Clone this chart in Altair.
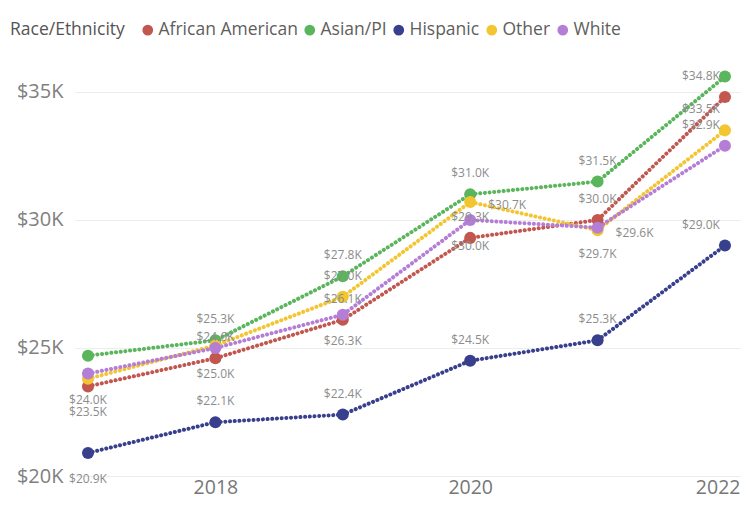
import altair as alt
import pandas as pd

years = [2017, 2018, 2019, 2020, 2021, 2022]
groups = ["African American", "Asian/PI", "Hispanic", "Other", "White"]
colors = ["#C1574F", "#5BB55C", "#383F8C", "#F2C531", "#B57ED6"]

# values in thousands of dollars
african_american = [23.5, 24.6, 26.1, 29.3, 30.0, 34.8]
asian_pi = [24.7, 25.3, 27.8, 31.0, 31.5, 35.6]
hispanic = [20.9, 22.1, 22.4, 24.5, 25.3, 29.0]
other = [23.8, 25.1, 27.0, 30.7, 29.6, 33.5]
white = [24.0, 25.0, 26.3, 30.0, 29.7, 32.9]

# where each data label appears: a=above, b=below, r=right, al=above-left, n=hidden
label_side_aa = ["b", "a", "a", "a", "a", "al"]
label_side_as = ["n", "a", "a", "a", "a", "n"]
label_side_hi = ["b", "a", "a", "a", "a", "al"]
label_side_ot = ["n", "n", "a", "r", "r", "al"]
label_side_wh = ["b", "b", "b", "b", "b", "al"]

y_ticks = [20000, 25000, 30000, 35000]
x_ticks = [2018, 2020, 2022]

series = [african_american, asian_pi, hispanic, other, white]
sides = [label_side_aa, label_side_as, label_side_hi, label_side_ot, label_side_wh]

rows = []
for g, vals, sd in zip(groups, series, sides):
    for yr, v, s in zip(years, vals, sd):
        rows.append({"year": yr, "group": g, "value": v * 1000,
                     "label": f"${v:.1f}K", "side": s})
df = pd.DataFrame(rows)

FONT = "Open Sans"

x_enc = alt.X("year:Q",
              scale=alt.Scale(domain=[2016.898, 2022.118], nice=False, zero=False),
              axis=alt.Axis(values=x_ticks, format="d", title=None, grid=False,
                            domain=False, ticks=False, labelFontSize=19.5,
                            labelColor="#777777", labelPadding=2, labelFont=FONT,
                            labelFlush=20, labelFlushOffset=15))
y_enc = alt.Y("value:Q",
              scale=alt.Scale(domain=[20000, 36170], nice=False, zero=False),
              axis=alt.Axis(values=y_ticks, labelExpr="'$' + (datum.value/1000) + 'K'",
                            title=None, domain=False, ticks=False, labelFontSize=20,
                            labelColor="#808080", labelPadding=12, labelFont=FONT,
                            gridColor="#EDEDED", gridWidth=1))

legend = alt.Legend(title="Race/Ethnicity", orient="none",
                    legendX=-65, legendY=-41, direction="horizontal",
                    titleOrient="left", titleFontSize=17.5,
                    titleFont=FONT, titleFontWeight="normal",
                    titleColor="#555555", labelFontSize=17.5,
                    labelFont=FONT, labelColor="#605E5C",
                    symbolType="circle", symbolSize=115, symbolStrokeWidth=0,
                    symbolOpacity=1,
                    labelOffset=2, columnPadding=3, titlePadding=14)
color_enc = alt.Color("group:N", scale=alt.Scale(domain=groups, range=colors),
                      legend=legend)

base = alt.Chart(df).encode(x=x_enc, y=y_enc)

lines = base.mark_line(strokeWidth=4, strokeDash=[0.1, 4.6], strokeCap="round").encode(
    color=color_enc)

points = base.mark_circle(size=145, opacity=1).encode(color=color_enc)


def text_layer(side, dx, dy):
    return base.transform_filter(alt.datum.side == side).mark_text(
        font=FONT, fontSize=12, color="#8C8C8C", dx=dx, dy=dy, baseline="middle"
    ).encode(text="label:N")


labels = [text_layer("a", 0, -21), text_layer("b", 0, 26),
          text_layer("r", 37, 3), text_layer("al", -24, -21)]

chart = alt.layer(lines, points, *labels).properties(
    width=665, height=414,
    autosize=alt.AutoSizeParams(type="none"),
    padding={"left": 67, "top": 54, "right": 2, "bottom": 22},
).configure_view(stroke=None)

chart.save("out.html", embed_options={"renderer": "svg", "actions": False})
